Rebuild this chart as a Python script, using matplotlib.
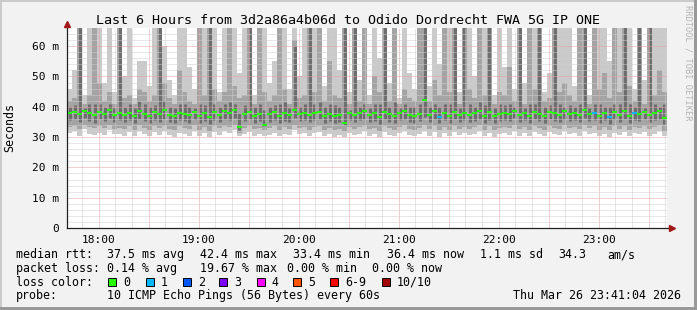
import numpy as np
import matplotlib
matplotlib.use("Agg")
import matplotlib.pyplot as plt
from matplotlib.patches import Rectangle

# ---- data: 120 bins of 3 minutes, starting 17:41 ----
t_start = 17 + 41 / 60
bin_hours = 3 / 60

rtt_max = [46, 52, 70, 44, 70, 70, 70, 48, 70, 45,
           70, 50, 70, 43, 55, 55, 47, 70, 70, 60,
           49, 44, 70, 70, 53, 46, 70, 70, 70, 70,
           45, 70, 70, 70, 51, 70, 70, 44, 70, 70,
           48, 55, 70, 70, 46, 70, 50, 70, 70, 70,
           70, 47, 70, 70, 52, 70, 45, 70, 49, 70,
           44, 70, 56, 70, 48, 70, 43, 70, 51, 46,
           70, 70, 47, 70, 54, 70, 70, 70, 45, 70,
           70, 50, 70, 70, 70, 44, 70, 53, 70, 46,
           70, 48, 70, 70, 70, 45, 51, 70, 70, 70,
           70, 47, 70, 70, 44, 70, 70, 70, 55, 70,
           70, 70, 70, 46, 70, 49, 70, 70, 70, 70]

rtt_hi = [42, 43, 70, 41, 44, 70, 48, 42, 45, 41,
          70, 43, 44, 41, 46, 45, 42, 44, 70, 48,
          43, 41, 52, 45, 42, 41, 70, 44, 70, 46,
          42, 45, 70, 47, 43, 44, 70, 41, 70, 45,
          42, 44, 70, 46, 41, 62, 43, 44, 70, 45,
          70, 42, 55, 44, 43, 70, 41, 70, 42, 70,
          41, 50, 45, 70, 42, 70, 41, 46, 43, 42,
          70, 70, 42, 49, 44, 70, 45, 70, 41, 70,
          46, 43, 70, 44, 70, 41, 45, 44, 53, 42,
          70, 41, 70, 46, 70, 42, 43, 70, 45, 48,
          44, 42, 70, 70, 41, 70, 46, 51, 43, 70,
          45, 70, 47, 42, 70, 41, 70, 44, 52, 45]

rtt_core_hi = [40, 40.5, 70, 39.5, 41, 41, 41, 40, 41, 39.5,
               70, 40, 41, 39.5, 42, 41, 40, 40.5, 70, 42,
               40, 39.5, 41, 41, 40, 39.5, 41, 40.5, 70, 41,
               40, 41, 41.5, 41, 38, 40.5, 70, 40, 41, 39,
               40, 40.5, 41, 41.5, 39.5, 60, 40, 41, 70, 41,
               41.5, 40, 41, 40.5, 40, 70, 39, 70, 40, 41,
               39.5, 41, 41, 70, 40, 41.5, 39.5, 41, 40, 40,
               41, 70, 40, 41, 40, 41, 41, 70, 39.5, 70,
               41, 40, 41.5, 40.5, 70, 39.5, 41, 40.5, 41, 40,
               70, 39.5, 41, 41, 70, 40, 40.5, 70, 41, 40,
               40.5, 40, 41, 70, 39.5, 41, 41, 40, 40, 41,
               41, 70, 41, 40, 70, 39.5, 70, 41, 40, 41]

rtt_median = [37.8, 38.2, 37.5, 38.6, 37.9, 37.2, 38.4, 37.6, 38.9, 37.4,
              38.1, 37.3, 37.9, 36.8, 38.5, 37.7, 37.1, 38.3, 37.6, 38.8,
              37.4, 36.9, 38.0, 37.5, 37.2, 38.4, 37.0, 37.8, 36.6, 38.2,
              37.3, 38.6, 37.9, 38.9, 33.4, 37.6, 38.3, 37.1, 37.7, 34.1,
              37.5, 38.2, 36.9, 37.8, 37.3, 39.1, 37.6, 38.0, 37.2, 37.9,
              38.3, 37.0, 37.7, 36.8, 37.4, 34.5, 38.1, 37.3, 37.9, 38.5,
              37.2, 37.8, 36.7, 38.4, 37.5, 37.0, 37.9, 38.6, 37.3, 36.9,
              37.6, 42.4, 37.2, 38.5, 36.7, 37.9, 37.1, 38.3, 37.4, 38.0,
              37.3, 37.8, 38.6, 37.0, 38.2, 36.8, 37.7, 38.1, 37.5, 38.7,
              37.2, 37.9, 36.9, 38.3, 37.6, 37.1, 38.4, 37.8, 37.3, 38.6,
              37.5, 38.0, 37.2, 38.8, 37.7, 38.1, 37.0, 37.9, 36.6, 38.3,
              37.4, 38.5, 37.1, 38.0, 37.7, 38.4, 37.2, 37.9, 38.6, 36.4]

rtt_core_lo = [35.5, 36, 35, 36.2, 35.4, 34.8, 35.9, 35.2, 36.3, 35,
               35.6, 34.9, 35.5, 34.6, 36, 35.3, 34.7, 35.8, 35.1, 36.1,
               35, 34.6, 35.7, 35.2, 34.8, 36, 34.7, 35.4, 34.3, 35.8,
               35, 36.1, 35.5, 36.2, 32.5, 35.2, 35.9, 34.8, 35.3, 33.5,
               35.1, 35.8, 34.6, 35.4, 35, 36.3, 35.2, 35.6, 34.9, 35.5,
               35.9, 34.7, 35.3, 34.5, 35, 34, 35.7, 35, 35.5, 36,
               34.9, 35.4, 34.4, 36, 35.1, 34.7, 35.5, 36.1, 35, 34.6,
               35.2, 36.5, 34.9, 36, 34.5, 35.5, 34.8, 35.9, 35.1, 35.6,
               35, 35.4, 36.1, 34.7, 35.8, 34.5, 35.3, 35.7, 35.2, 36.2,
               34.9, 35.5, 34.6, 35.9, 35.2, 34.8, 36, 35.4, 35, 36.1,
               35.2, 35.6, 34.9, 36.3, 35.3, 35.7, 34.7, 35.5, 34.4, 35.9,
               35.1, 36, 34.8, 35.6, 35.3, 36, 34.9, 35.5, 36.1, 34.3]

rtt_lo = [33.4, 33.8, 32.6, 34.1, 33.2, 32.9, 33.5, 33.0, 34.0, 32.8,
          33.1, 32.7, 33.6, 32.4, 33.9, 33.0, 32.5, 33.7, 32.9, 33.8,
          32.8, 32.3, 33.5, 33.1, 32.6, 33.9, 32.4, 33.2, 32.1, 33.6,
          32.9, 33.8, 33.3, 34.0, 31.4, 33.0, 33.6, 32.6, 33.1, 32.2,
          32.9, 33.5, 32.3, 33.2, 32.7, 34.1, 33.0, 33.4, 32.5, 33.3,
          33.6, 32.4, 33.0, 32.2, 32.8, 32.0, 33.4, 32.7, 33.2, 33.8,
          32.6, 33.1, 32.1, 33.8, 32.9, 32.4, 33.3, 33.9, 32.7, 32.3,
          33.0, 34.0, 32.6, 33.7, 32.2, 33.3, 32.5, 33.6, 32.8, 33.4,
          32.7, 33.2, 33.9, 32.4, 33.5, 32.2, 33.1, 33.4, 32.9, 34.0,
          32.6, 33.3, 32.3, 33.6, 33.0, 32.5, 33.8, 33.1, 32.8, 33.9,
          33.0, 33.4, 32.6, 34.0, 33.1, 33.5, 32.4, 33.2, 32.2, 33.6,
          32.8, 33.7, 32.5, 33.3, 33.1, 33.8, 32.6, 33.2, 33.9, 32.1]

rtt_min = [31.2, 32.0, 30.4, 32.6, 31.0, 30.8, 31.5, 30.6, 32.2, 30.9,
           31.1, 30.5, 31.8, 30.2, 32.0, 30.9, 30.3, 31.6, 30.7, 31.9,
           30.6, 30.1, 31.4, 31.0, 30.4, 32.1, 30.3, 31.2, 30.0, 31.7,
           30.8, 31.9, 31.3, 32.3, 30.2, 30.9, 31.6, 30.5, 31.0, 30.4,
           30.7, 31.5, 30.2, 31.1, 30.6, 32.2, 30.9, 31.4, 30.3, 31.2,
           31.7, 30.3, 30.9, 30.1, 30.7, 30.0, 31.3, 30.6, 31.1, 31.9,
           30.5, 31.0, 30.1, 31.8, 30.8, 30.3, 31.2, 32.0, 30.6, 30.2,
           30.9, 32.1, 30.5, 31.7, 30.1, 31.2, 30.4, 31.6, 30.7, 31.3,
           30.6, 31.1, 31.9, 30.3, 31.5, 30.1, 31.0, 31.3, 30.8, 32.0,
           30.5, 31.2, 30.2, 31.6, 30.9, 30.4, 31.8, 31.0, 30.7, 31.9,
           30.9, 31.3, 30.5, 32.1, 31.0, 31.4, 30.3, 31.1, 30.1, 31.5,
           30.7, 31.6, 30.4, 31.2, 31.0, 31.7, 30.5, 31.1, 31.9, 30.2]

# lost pings (of 10) per bin
loss = [0, 0, 0, 0, 0, 0, 0, 0, 0, 0, 0, 0, 0, 0, 0, 0, 0, 0, 0, 0,
        0, 0, 0, 0, 0, 0, 0, 0, 0, 0, 0, 0, 0, 0, 0, 0, 0, 0, 0, 0,
        0, 0, 0, 0, 0, 0, 0, 0, 0, 0, 0, 0, 0, 0, 0, 0, 0, 0, 0, 0,
        0, 0, 0, 0, 0, 0, 0, 0, 0, 0, 0, 0, 0, 0, 1, 0, 0, 0, 0, 0,
        0, 0, 0, 0, 0, 0, 0, 0, 0, 0, 0, 0, 0, 0, 0, 0, 0, 0, 0, 0,
        0, 0, 0, 0, 0, 1, 0, 0, 1, 0, 0, 0, 0, 1, 0, 0, 0, 0, 0, 0]

loss_labels = ["0", "1", "2", "3", "4", "5", "6-9", "10/10"]
loss_colors = ["#26ff00", "#00b8ff", "#0059ff", "#7e00ff",
               "#ff00ff", "#ff5500", "#ff0000", "#a10000"]

hour_ticks = [18, 19, 20, 21, 22, 23]
y_ticks = [0, 10, 20, 30, 40, 50, 60]
y_labels = ["0", "10 m", "20 m", "30 m", "40 m", "50 m", "60 m"]

title = "Last 6 Hours from 3d2a86a4b06d to Odido Dordrecht FWA 5G IP ONE"
rtt_stats = ["37.5 ms avg", "42.4 ms max", "33.4 ms min", "36.4 ms now", "1.1 ms sd", "34.3", "am/s"]
loss_stats = ["0.14 % avg", "19.67 % max", "0.00 % min", "0.00 % now"]
probe_text = "10 ICMP Echo Pings (56 Bytes) every 60s"
stamp = "Thu Mar 26 23:41:04 2026"

W, H = 697, 310
MONO = "DejaVu Sans Mono"

fig = plt.figure(figsize=(W / 100, H / 100), dpi=100, facecolor="#f2f2f2")
ax = fig.add_axes([67 / W, (H - 228) / H, 600 / W, 200 / H])
ax.set_facecolor("white")

n = len(rtt_median)
edges = t_start + np.arange(n + 1) * bin_hours
centers = (edges[:-1] + edges[1:]) / 2


def ext(a):
    a = np.asarray(a, dtype=float)
    return np.append(a, a[-1])


# smoke: outer two bands as full-width steps, inner band as thinner strokes
ax.fill_between(edges, ext(rtt_min), ext(rtt_max), step="post", color="#cacaca", lw=0, zorder=1)
ax.fill_between(edges, ext(rtt_lo), ext(rtt_hi), step="post", color="#a4a4a4", lw=0, zorder=1.1)
ax.vlines(centers, rtt_core_lo, rtt_core_hi, colors="#6e6e6e", lw=2.2, zorder=1.2)

# median coloured by loss
med_colors = [loss_colors[min(l, 6) if l < 10 else 7] for l in loss]
ax.hlines(rtt_median, edges[:-1], edges[1:], colors=med_colors, lw=1.5, capstyle="butt", zorder=3)

# grid
half_hours = np.arange(17.5, 24.0, 0.5)
ax.set_xticks(half_hours)
ax.set_xticklabels(["%d:00" % h if h in hour_ticks else "" for h in half_hours])
ax.set_xticks(np.arange(17.5, 24.0, 1 / 6), minor=True)
ax.set_yticks(y_ticks)
ax.set_yticklabels(y_labels)
ax.set_yticks(np.arange(0, 66, 2), minor=True)
ax.set_xlim(t_start, t_start + 6)
ax.set_ylim(0, 66)
ax.set_axisbelow(False)
ax.grid(which="minor", color="#cfcfcf", lw=0.72, ls=(0, (1, 1)))
ax.grid(which="major", color="#e8a0a0", lw=0.72, ls=(0, (1, 1)))
ax.tick_params(which="both", length=0)
ax.tick_params(axis="x", pad=5, labelsize=8)
ax.tick_params(axis="y", pad=6, labelsize=8)
for lab in ax.get_xticklabels() + ax.get_yticklabels():
    lab.set_family(MONO)

for s in ax.spines.values():
    s.set_visible(False)
ax.plot([0, 0], [0, 1.012], transform=ax.transAxes, color="#202020", lw=0.9, clip_on=False, zorder=5)
ax.plot([0, 1.003], [0, 0], transform=ax.transAxes, color="#202020", lw=0.9, clip_on=False, zorder=5)
ax.plot([0], [1.02], marker="^", ms=4.5, color="#a01818", transform=ax.transAxes, clip_on=False, zorder=6)
ax.plot([1.0075], [0], marker=">", ms=4.5, color="#a01818", transform=ax.transAxes, clip_on=False, zorder=6)


def ftxt(x, y, s, **kw):
    kw.setdefault("fontsize", 8.4)
    kw.setdefault("va", "baseline")
    fig.text(x / W, 1 - y / H, s, family=MONO, **kw)


ftxt(348, 24, title, fontsize=9.6, ha="center")
ftxt(10, 128, "Seconds", rotation=90, ha="center", va="center")
fig.text(688 / W, 1 - 5 / H, "RRDTOOL / TOBI OETIKER", family=MONO, fontsize=6.2,
         color="#b4b4b4", rotation=-90, ha="center", va="top")

# legend
ftxt(16, 258.3, "median rtt:")
for x, s in zip([107.3, 200, 293.3, 386.5, 480, 558.3, 607.3], rtt_stats):
    ftxt(x, 258.3, s)
ftxt(16, 271.7, "packet loss:")
for x, s in zip([107.3, 200, 287.3, 372.3], loss_stats):
    ftxt(x, 271.7, s)
ftxt(16, 285.7, "loss color:")
box_x = [108.3, 145.7, 182.7, 219.3, 256.7, 293.3, 330, 381.7]
for x, c, s in zip(box_x, loss_colors, loss_labels):
    fig.patches.append(Rectangle((x / W, 1 - 286 / H), 8 / W, 8 / H, transform=fig.transFigure,
                                 facecolor=c, edgecolor="black", lw=0.7))
    ftxt(x + 15, 285.7, s)
ftxt(16, 299.3, "probe:")
ftxt(107.3, 299.3, probe_text)
ftxt(681, 299.3, stamp, ha="right")

# frame
fig.patches.append(Rectangle((0, 1 - 2 / H), 1, 2 / H, transform=fig.transFigure, color="#cbcbcb", lw=0))
fig.patches.append(Rectangle((0, 0), 2 / W, 1, transform=fig.transFigure, color="#cbcbcb", lw=0))
fig.patches.append(Rectangle((1 - 3 / W, 0), 3 / W, 1, transform=fig.transFigure, color="#999999", lw=0))
fig.patches.append(Rectangle((0, 0), 1, 3 / H, transform=fig.transFigure, color="#999999", lw=0))

fig.savefig("out.png", dpi=100, facecolor=fig.get_facecolor())
